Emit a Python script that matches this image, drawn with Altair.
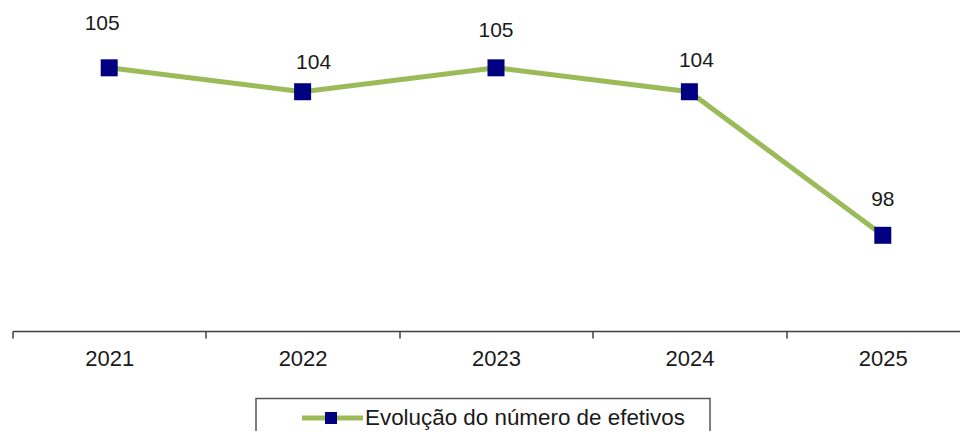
import json
import altair as alt
import pandas as pd

# ---- data ----
anos = ["2021", "2022", "2023", "2024", "2025"]
efetivos = [105, 104, 105, 104, 98]
serie_nome = "Evolução do número de efetivos"

# ---- style (label offsets in px, as placed in the original) ----
label_offsets = {"2021": (-7, -44), "2022": (11, -29), "2023": (0, -37),
                 "2024": (7, -31), "2025": (0, -35)}
FONT = "Liberation Sans"
GREEN = "#9BBB59"
NAVY = "#000080"
TXT = "#1a1a1a"

PAD_L = 4.5
W = 952 - PAD_L       # keep the whole page inside the 968 px window (8 px margins)
H = 323
STEP = 193.4
df = pd.DataFrame({"ano": anos, "idx": list(range(len(anos))), "efetivos": efetivos})

tick_vals = [i - 0.5 for i in range(len(anos))]
x_enc = alt.X(
    "idx:Q",
    scale=alt.Scale(domain=[-0.5, -0.5 + W / STEP], nice=False, zero=False),
    axis=alt.Axis(title=None, values=tick_vals, labelAngle=0, tickSize=7,
                  labelPadding=10, labelOffset=STEP / 2,
                  labelExpr=json.dumps(anos) + "[datum.value + 0.5]",
                  labelFlush=False, labelOverlap=False, labelBound=False,
                  domainColor="#404040", tickColor="#404040",
                  domainWidth=1.5, tickWidth=1.5, labelFontSize=22,
                  labelColor=TXT, labelFont=FONT, grid=False),
)
y_enc = alt.Y("efetivos:Q",
              scale=alt.Scale(domain=[94, 107.5], zero=False, nice=False),
              axis=None)

base = alt.Chart(df).encode(x=x_enc, y=y_enc)

line = base.mark_line(color=GREEN, strokeWidth=5)
pts = base.mark_point(shape="square", filled=True, size=289, color=NAVY, opacity=1)

label_layers = []
for a in anos:
    dx, dy = label_offsets[a]
    label_layers.append(
        base.transform_filter(alt.datum.ano == a).mark_text(
            dx=dx, dy=dy, fontSize=21, font=FONT, color=TXT, baseline="middle"
        ).encode(text=alt.Text("efetivos:Q"))
    )

# ---- legend (drawn manually) ----
LEG_Y = 410
leg_df = pd.DataFrame({"nome": [serie_nome]})
leg = alt.Chart(leg_df)
leg_box = leg.mark_rect(fill="white", stroke="#555555", strokeWidth=1.5).encode(
    x=alt.value(243.5), x2=alt.value(697.5), y=alt.value(390.5), y2=alt.value(470))
leg_line = leg.mark_rule(color=GREEN, strokeWidth=5).encode(
    x=alt.value(289.5), x2=alt.value(350.5), y=alt.value(LEG_Y))
leg_pt = leg.mark_point(shape="square", filled=True, size=144, color=NAVY, opacity=1).encode(
    x=alt.value(318.5), y=alt.value(LEG_Y))
leg_txt = leg.mark_text(align="left", baseline="middle", fontSize=22.4, font=FONT,
                        color=TXT).encode(
    x=alt.value(352.5), y=alt.value(LEG_Y), text="nome:N")

chart = alt.layer(line, pts, *label_layers, leg_box, leg_line, leg_pt, leg_txt).properties(
    width=W, height=H,
    autosize=alt.AutoSizeParams(type="none"),
    padding={"left": PAD_L, "top": 0, "right": 0, "bottom": 423 - H},
).configure_view(stroke=None)

chart.save("out.html", embed_options={"renderer": "svg", "actions": False})
